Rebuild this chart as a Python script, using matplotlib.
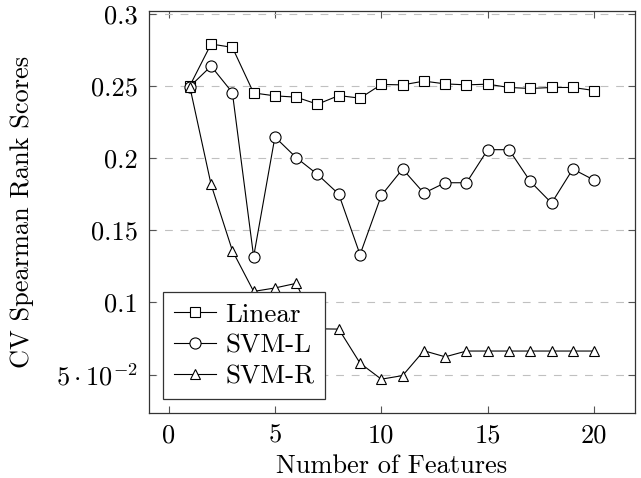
import numpy as np
import matplotlib
matplotlib.use("Agg")
import matplotlib.pyplot as plt

plt.rcParams['font.family'] = 'serif'
plt.rcParams['font.serif'] = ['cmr10', 'DejaVu Serif']
plt.rcParams['mathtext.fontset'] = 'cm'
plt.rcParams['axes.formatter.use_mathtext'] = True

n_features = list(range(1, 21))
linear = [0.250, 0.279, 0.2767, 0.2451, 0.2431, 0.2422, 0.2373, 0.2433, 0.2415, 0.2510,
          0.2507, 0.2533, 0.2514, 0.2507, 0.2512, 0.2489, 0.2482, 0.2489, 0.2489, 0.2468]
svm_l = [0.2495, 0.2637, 0.2454, 0.1317, 0.2146, 0.2003, 0.1887, 0.1750, 0.1331, 0.1741,
         0.1924, 0.1757, 0.1829, 0.1829, 0.2058, 0.2058, 0.1838, 0.1688, 0.1924, 0.1847]
svm_r = [0.2495, 0.1817, 0.1359, 0.1076, 0.1100, 0.1132, 0.0817, 0.0815, 0.0579, 0.0468,
         0.0493, 0.0665, 0.0623, 0.0663, 0.0663, 0.0663, 0.0663, 0.0663, 0.0663, 0.0663]

x_ticks = [0, 5, 10, 15, 20]
y_ticks = [0.05, 0.1, 0.15, 0.2, 0.25, 0.3]
y_tick_labels = [r'$5\cdot10^{-2}$', '0.1', '0.15', '0.2', '0.25', '0.3']

fs = 19
fig = plt.figure(figsize=(6.41, 4.78), dpi=100)
ax = fig.add_axes([0.233, 0.1366, 0.757, 0.8414])

style = dict(color='black', linewidth=0.8, markerfacecolor='white',
             markeredgecolor='black', markeredgewidth=0.8)
ax.plot(n_features, linear, marker='s', markersize=7.5, label='Linear', **style)
ax.plot(n_features, svm_l, marker='o', markersize=8, label='SVM-L', **style)
ax.plot(n_features, svm_r, marker='^', markersize=7.5, label='SVM-R', **style)

# pgfplots-like enlarged limits (10% of data range)
all_y = np.concatenate([linear, svm_l, svm_r])
yr = all_y.max() - all_y.min()
ax.set_xlim(1 - 0.1 * 19, 20 + 0.1 * 19)
ax.set_ylim(all_y.min() - 0.1 * yr, all_y.max() + 0.1 * yr)

ax.set_xticks(x_ticks)
ax.set_xticklabels([str(t) for t in x_ticks])
ax.set_yticks(y_ticks)
ax.set_yticklabels(y_tick_labels)
ax.tick_params(direction='in', top=True, right=True, length=5, width=0.8,
               color='#555555', labelsize=fs, pad=8)
for s in ax.spines.values():
    s.set_linewidth(0.9)
    s.set_color('#333333')

ax.yaxis.grid(True, color='#c0c0c0', linewidth=0.8, linestyle=(0, (7, 7)))
ax.set_axisbelow(True)

ax.set_xlabel('Number of Features', fontsize=fs, labelpad=5)
ax.set_ylabel('CV Spearman Rank Scores', fontsize=fs, labelpad=16)

leg = ax.legend(loc='lower left', fontsize=19.5, fancybox=False, framealpha=1,
                edgecolor='#333333', handlelength=1.55, labelspacing=0.25,
                borderpad=0.4, handletextpad=0.35, borderaxespad=0.5)
leg.get_frame().set_linewidth(0.9)

fig.savefig('out.png', dpi=100)
